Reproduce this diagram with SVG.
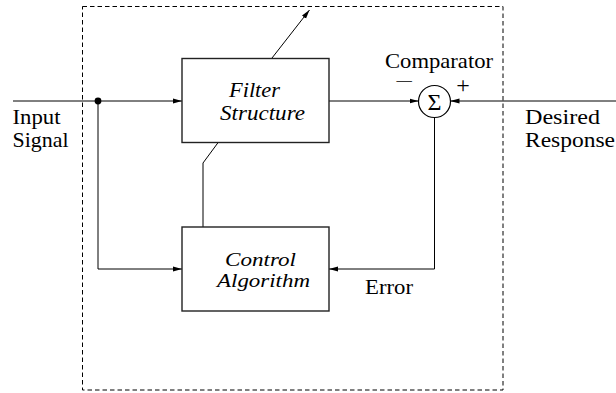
<svg xmlns="http://www.w3.org/2000/svg" width="616" height="393" viewBox="0 0 616 393">
<style>
.ln{fill:none;stroke:#000;stroke-width:1}
.box{fill:#fff;stroke:#222;stroke-width:1.4}
.t{font-family:"Liberation Serif","Times New Roman",serif;font-size:21px;fill:#000}
.it{font-family:"Liberation Serif","Times New Roman",serif;font-size:21px;font-style:italic;fill:#000}
</style>
<defs>
<marker id="ah" markerWidth="9" markerHeight="6" refX="9" refY="3" orient="auto" markerUnits="userSpaceOnUse">
<path d="M0,0.5 L9,3 L0,5.5 Z" fill="#000"/>
</marker>
</defs>
<rect x="82.5" y="6.5" width="420.5" height="383.5" fill="none" stroke="#000" stroke-width="1" stroke-dasharray="4.5,3"/>
<g id="connectors">
<line class="ln" x1="13" y1="101" x2="182" y2="101" marker-end="url(#ah)"/>
<polyline class="ln" points="98,101 98,269 182,269" marker-end="url(#ah)"/>
<line class="ln" x1="272" y1="58" x2="309.5" y2="10" marker-end="url(#ah)"/>
<line class="ln" x1="329" y1="101" x2="418.5" y2="101" marker-end="url(#ah)"/>
<line class="ln" x1="616" y1="101" x2="450.5" y2="101" marker-end="url(#ah)"/>
<polyline class="ln" points="434.5,117.5 434.5,269 329,269" marker-end="url(#ah)"/>
<polyline class="ln" points="203,227 203,163 218.5,142"/>
<circle cx="98" cy="101" r="3.4" fill="#000"/>
</g>
<g id="filter">
<rect class="box" x="182" y="58.5" width="147" height="84"/>
<text class="it" x="229" y="97" textLength="51" lengthAdjust="spacingAndGlyphs">Filter</text>
<text class="it" x="220" y="120" textLength="85" lengthAdjust="spacingAndGlyphs">Structure</text>
</g>
<g id="control">
<rect class="box" x="182" y="227" width="147" height="84"/>
<text class="it" x="225" y="266" textLength="71" lengthAdjust="spacingAndGlyphs" style="font-size:19.5px">Control</text>
<text class="it" x="217" y="287" textLength="93" lengthAdjust="spacingAndGlyphs" style="font-size:19.5px">Algorithm</text>
</g>
<g id="comparator">
<circle cx="434.5" cy="101.5" r="16" fill="#fff" stroke="#000" stroke-width="1.2"/>
<text class="t" x="434.5" y="109.5" text-anchor="middle" style="font-size:24px">Σ</text>
<text class="t" x="385" y="68" textLength="108" lengthAdjust="spacingAndGlyphs">Comparator</text>
<text class="t" x="395" y="86" textLength="19" lengthAdjust="spacingAndGlyphs" style="font-size:14px">−</text>
<text class="t" x="463" y="92.5" text-anchor="middle" style="font-size:24px">+</text>
</g>
<g id="labels">
<text class="t" x="12.5" y="124" textLength="48" lengthAdjust="spacingAndGlyphs">Input</text>
<text class="t" x="12.5" y="147" textLength="56" lengthAdjust="spacingAndGlyphs">Signal</text>
<text class="t" x="525" y="124" textLength="75" lengthAdjust="spacingAndGlyphs">Desired</text>
<text class="t" x="525" y="147" textLength="90" lengthAdjust="spacingAndGlyphs">Response</text>
<text class="t" x="365" y="294" textLength="48" lengthAdjust="spacingAndGlyphs">Error</text>
</g>
</svg>
